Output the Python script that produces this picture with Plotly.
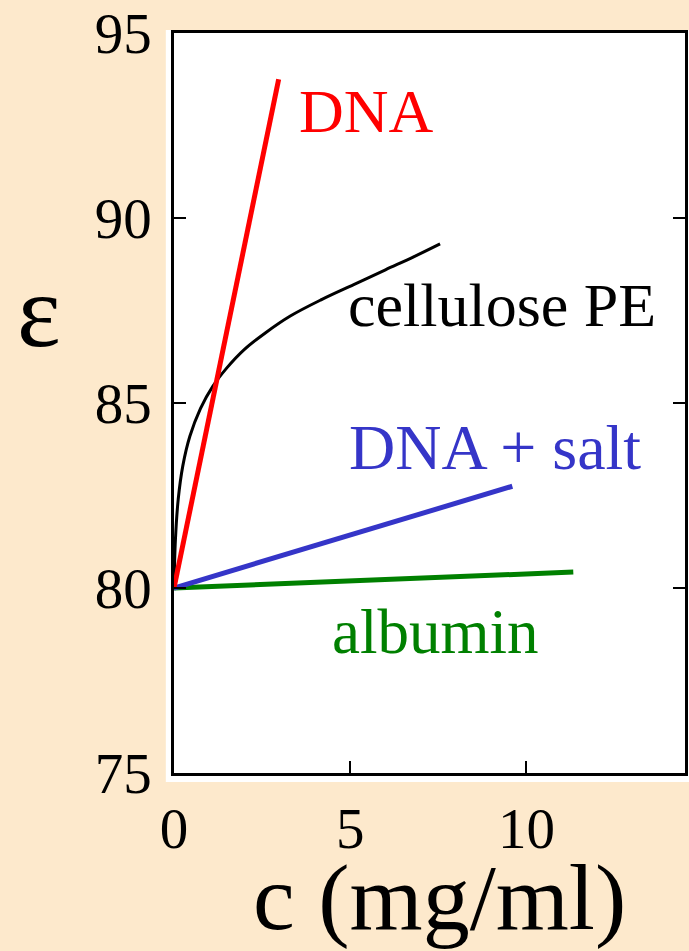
import plotly.graph_objects as go

# ---- data ----
dna_x = [0.0, 2.97]
dna_y = [80.0, 93.75]

cell_x = [0.0, 0.04, 0.12, 0.25, 0.45, 0.75, 1.1, 1.5, 2.0, 2.6, 3.3, 4.2, 5.1, 6.0, 6.8, 7.55]
cell_y = [80.0, 81.3, 82.4, 83.3, 84.1, 84.85, 85.45, 85.95, 86.45, 86.9, 87.35, 87.8, 88.2, 88.6, 88.95, 89.3]

salt_x = [0.0, 9.6]
salt_y = [80.0, 82.75]

alb_x = [0.0, 11.33]
alb_y = [80.0, 80.43]

x_ticks = [0, 5, 10]
y_ticks = [75, 80, 85, 90, 95]

labels = ["DNA", "cellulose PE", "DNA + salt", "albumin"]
label_x = [5.45, 9.3, 9.1, 7.4]
label_y = [92.9, 87.65, 83.8, 78.8]
label_colors = ["#ff0000", "#000000", "#3535c8", "#008000"]
label_sizes = [62, 62, 64, 63]

SERIF = "Liberation Serif, Times New Roman, serif"
BG = "#fde9cc"

fig = go.Figure()
fig.add_trace(go.Scatter(x=cell_x, y=cell_y, mode="lines",
                         line=dict(color="black", width=3, shape="spline", smoothing=1.0),
                         hoverinfo="skip"))
fig.add_trace(go.Scatter(x=alb_x, y=alb_y, mode="lines",
                         line=dict(color="#008000", width=5), hoverinfo="skip"))
fig.add_trace(go.Scatter(x=salt_x, y=salt_y, mode="lines",
                         line=dict(color="#3535c8", width=5), hoverinfo="skip"))
fig.add_trace(go.Scatter(x=dna_x, y=dna_y, mode="lines",
                         line=dict(color="#ff0000", width=5), hoverinfo="skip"))

for t, x, y, c, s in zip(labels, label_x, label_y, label_colors, label_sizes):
    fig.add_annotation(x=x, y=y, xref="x", yref="y", text=t, showarrow=False,
                       xanchor="center", yanchor="middle",
                       font=dict(family=SERIF, size=s, color=c))

# axis titles as annotations (paper coords)
fig.add_annotation(x=-0.265, y=0.625, xref="paper", yref="paper", text="ε",
                   showarrow=False, xanchor="center", yanchor="middle",
                   font=dict(family=SERIF, size=104, color="black"))
fig.add_annotation(x=0.52, y=-0.2405, xref="paper", yref="paper", text="c (mg/ml)",
                   showarrow=False, xanchor="center", yanchor="bottom",
                   font=dict(family=SERIF, size=94, color="black"))

# white panel slightly larger than the frame
fig.add_shape(type="rect", xref="paper", yref="paper", x0=-0.016, x1=1.01, y0=-0.012, y1=1.004,
              fillcolor="white", line=dict(width=0), layer="below")

fig.update_layout(
    width=689, height=951,
    margin=dict(l=174, r=1, t=33, b=178),
    paper_bgcolor=BG, plot_bgcolor="white",
    showlegend=False,
    font=dict(family=SERIF, color="black"),
)
fig.update_xaxes(range=[0, 14.5], tickvals=x_ticks, ticktext=[str(v) for v in x_ticks],
                 ticks="inside", ticklen=12, tickwidth=2, tickcolor="black",
                 showline=True, linecolor="black", linewidth=2.5, mirror=True,
                 showgrid=False, zeroline=False,
                 tickfont=dict(family=SERIF, size=57, color="black"),
                 ticklabelstandoff=4)
fig.update_yaxes(range=[75, 95], tickvals=y_ticks, ticktext=[str(v) for v in y_ticks],
                 ticks="inside", ticklen=12, tickwidth=2, tickcolor="black",
                 showline=True, linecolor="black", linewidth=2.5, mirror="ticks",
                 showgrid=False, zeroline=False,
                 tickfont=dict(family=SERIF, size=57, color="black"),
                 ticklabelstandoff=8)

fig.write_html("out.html")
